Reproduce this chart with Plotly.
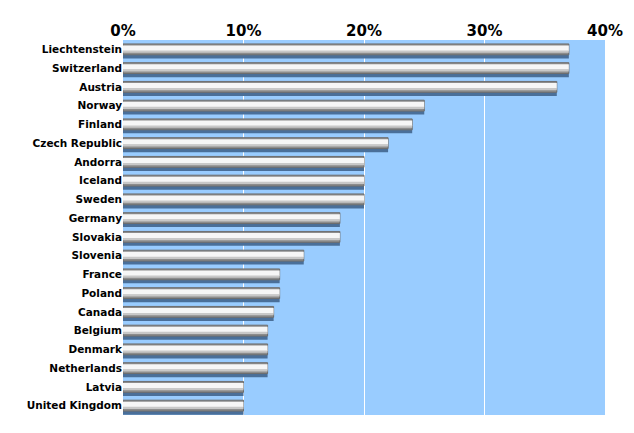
import plotly.graph_objects as go

countries = ["Liechtenstein","Switzerland","Austria","Norway","Finland","Czech Republic","Andorra","Iceland","Sweden","Germany","Slovakia","Slovenia","France","Poland","Canada","Belgium","Denmark","Netherlands","Latvia","United Kingdom"]
values = [37,37,36,25,24,22,20,20,20,18,18,15,13,13,12.5,12,12,12,10,10]
tickvals = [0,10,20,30,40]
ticktext = ["0%","10%","20%","30%","40%"]

fig = go.Figure()
fig.add_bar(y=countries, x=values, orientation="h", width=0.7, offset=-0.22,
            marker=dict(color="#4a6f99", line=dict(width=0)), hoverinfo="skip")
fig.add_bar(y=countries, x=values, orientation="h", width=0.58,
            marker=dict(color="#8c8c8c", line=dict(color="#6e6e6e", width=1)), hoverinfo="skip")
fig.add_bar(y=countries, x=values, orientation="h", width=0.3, offset=-0.21,
            marker=dict(color="#f6f6f6", line=dict(width=0)), hoverinfo="skip")
fig.add_bar(y=countries, x=values, orientation="h", width=0.12, offset=0.06,
            marker=dict(color="#c8c8c8", line=dict(width=0)), hoverinfo="skip")

fig.update_layout(
    width=618, height=417, barmode="overlay", showlegend=False,
    paper_bgcolor="white", plot_bgcolor="#99ccff",
    margin=dict(l=115, r=21, t=32, b=10),
    font=dict(family="DejaVu Sans", color="black"),
)
fig.update_xaxes(side="top", range=[0,40], tickvals=tickvals, ticktext=ticktext,
                 showgrid=True, gridcolor="white", gridwidth=1, zeroline=False,
                 tickfont=dict(size=15, family="DejaVu Sans", color="black", weight="bold"),
                 showline=False, ticks="", automargin=False)
fig.update_yaxes(categoryorder="array", categoryarray=countries,
                 tickfont=dict(size=10.5, family="DejaVu Sans", color="black", weight="bold"),
                 showgrid=False, ticks="", range=[19.5,-0.5], automargin=False)
fig.write_html("out.html")
